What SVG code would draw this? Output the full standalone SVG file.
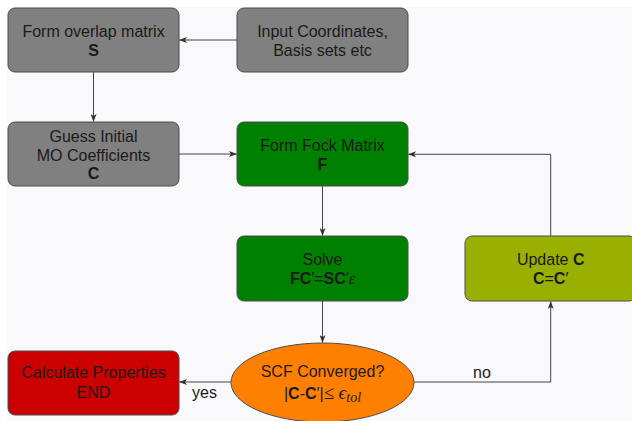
<svg xmlns="http://www.w3.org/2000/svg" width="632" height="421" viewBox="0 0 632 421">
<defs>
<marker id="arr" viewBox="0 0 8 6" refX="7.5" refY="3" markerWidth="8" markerHeight="6" markerUnits="userSpaceOnUse" orient="auto">
<path d="M0,0 L8,3 L0,6 L2,3 Z" fill="#333"/>
</marker>
</defs>
<style>
.box{stroke:#4d4d4d;stroke-width:1}
.gray{fill:#808080}
.green{fill:#008000}
.olive{fill:#99b000}
.red{fill:#cc0000}
.orange{fill:#ff8000}
text{font-family:"Liberation Sans",Arial,sans-serif;font-size:16px;fill:#1a1a1a;text-anchor:middle}
.b{font-weight:bold}
.m{font-family:"Liberation Serif","Times New Roman",serif;font-style:italic}
.edge{fill:none;stroke:#444;stroke-width:1;marker-end:url(#arr)}
.lbl{text-anchor:start}
</style>
<rect x="7" y="7" width="625" height="414" fill="#f9f9fb"/>
<g id="connectors">
<path class="edge" d="M237,40 L179.5,40"/>
<path class="edge" d="M93.5,72 L93.5,121.5"/>
<path class="edge" d="M179,154 L236.5,154"/>
<path class="edge" d="M322.5,186 L322.5,235.5"/>
<path class="edge" d="M322.5,301 L322.5,342.5"/>
<path class="edge" d="M231,382 L179.5,382"/>
<path class="edge" d="M414,382 L550.7,382 L550.7,301.5"/>
<path class="edge" d="M550.7,236 L550.7,154.3 L408.5,154.3"/>
<text class="lbl" x="473" y="378">no</text>
<text class="lbl" x="192" y="398">yes</text>
</g>
<g id="overlap">
<rect class="box gray" x="8" y="8" width="171" height="64" rx="7"/>
<text x="93.5" y="36.5">Form overlap matrix</text>
<text x="93.5" y="56" class="b">S</text>
</g>
<g id="input">
<rect class="box gray" x="237" y="8" width="171" height="64" rx="7"/>
<text x="322.5" y="36.5">Input Coordinates,</text>
<text x="322.5" y="55.5">Basis sets etc</text>
</g>
<g id="guess">
<rect class="box gray" x="8" y="122" width="171" height="64" rx="7"/>
<text x="93.5" y="142">Guess Initial</text>
<text x="93.5" y="160.5">MO Coefficients</text>
<text x="93.5" y="179" class="b">C</text>
</g>
<g id="fock">
<rect class="box green" x="237" y="122" width="171" height="64" rx="7"/>
<text x="322.5" y="150.5">Form Fock Matrix</text>
<text x="322.5" y="170" class="b">F</text>
</g>
<g id="solve">
<rect class="box green" x="237" y="236" width="171" height="65" rx="7"/>
<text x="322.5" y="265">Solve</text>
<text x="322.5" y="284"><tspan class="b">FC</tspan>′=<tspan class="b">SC</tspan>′<tspan class="m">ε</tspan></text>
</g>
<g id="update">
<rect class="box olive" x="465" y="236" width="171" height="65" rx="7"/>
<text x="550.7" y="265">Update <tspan class="b">C</tspan></text>
<text x="550.7" y="284"><tspan class="b">C</tspan>=<tspan class="b">C</tspan>′</text>
</g>
<g id="calc">
<rect class="box red" x="8" y="351" width="171" height="64" rx="7"/>
<text x="93.5" y="378">Calculate Properties</text>
<text x="93.5" y="398">END</text>
</g>
<g id="scf">
<ellipse class="box orange" cx="322.5" cy="382.5" rx="91.5" ry="39.5"/>
<text x="322.5" y="377">SCF Converged?</text>
<text x="322.5" y="399">|<tspan class="b">C</tspan>-<tspan class="b">C</tspan>′|<tspan font-family="Liberation Serif,serif" font-size="19">≤</tspan> <tspan class="m" font-size="19">ϵ</tspan><tspan class="m" font-size="14" dy="3">tol</tspan></text>
</g>
</svg>
